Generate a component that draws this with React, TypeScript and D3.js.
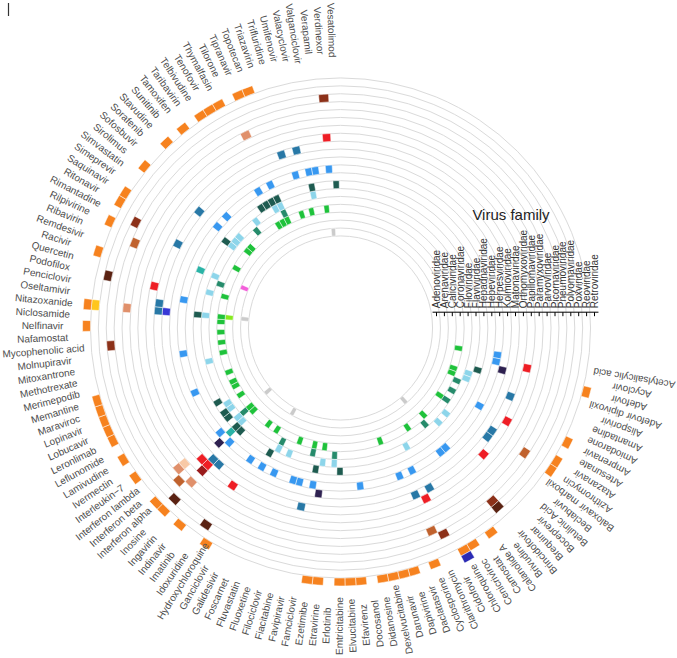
import React from "react";
import * as d3 from "d3";

const drugs = [
  "Acetylsalicylic acid","Acyclovir","Adefovir","Adefovir dipivoxil","Alisporivir","Amantadine","Amiodarone","Amprenavir","Artesunate","Atazanavir",
  "Azithromycin","Baloxavir marboxil","Beclabuvir","Betulinic Acid","Boceprevir","Brequinar","Brincidofovir","Brivudine","Calanolide A","Camostat",
  "Cenicriviroc","Chloroquine","Cidofovir","Clarithromycin","Cyclosporine","Daclatasvir","Dapivirine","Darunavir","Dexelvucitabine","Didanosine",
  "Docosanol","Efavirenz","Elvucitabine","Emtricitabine","Erlotinib","Etravirine","Ezetimibe","Famciclovir","Favipiravir","Fiacitabine",
  "Filociclovir","Fluoxetine","Fluvastatin","Foscarnet","Galidesivir","Ganciclovir","Hydroxychloroquine","Idoxuridine","Imatinib","Indinavir",
  "Ingavirin","Inosine","Interferon alpha","Interferon beta","Interferon lambda","Interleukin−7","Ivermectin","Lamivudine","Leflunomide","Leronlimab",
  "Lobucavir","Lopinavir","Maraviroc","Memantine","Merimepodib","Methotrexate","Mitoxantrone","Molnupiravir","Mycophenolic acid","Nafamostat",
  "Nelfinavir","Niclosamide","Nitazoxanide","Oseltamivir","Penciclovir","Podofilox","Quercetin","Racivir","Remdesivir","Ribavirin",
  "Rilpivirine","Rimantadine","Ritonavir","Saquinavir","Simeprevir","Simvastatin","Sirolimus","Sofosbuvir","Sorafenib","Stavudine",
  "Sunitinib","Tamoxifen","Taribavirin","Telbivudine","Tenofovir","Thymalfasin","Tilorone","Tipranavir","Topotecan","Triazavirin",
  "Trifluridine","Umifenovir","Valacyclovir","Valganciclovir","Verapamil","Verdinexor","Vesatolimod",
];

const families = [
  "Adenoviridae","Arenaviridae","Caliciviridae","Coronaviridae","Filoviridae","Flaviviridae","Hepadnaviridae",
  "Hepeviridae","Herpesviridae","Kolmioviridae","Matonaviridae","Orthomyxoviridae","Papillomaviridae","Paramyxoviridae",
  "Parvoviridae","Picornaviridae","Pneumoviridae","Polyomaviridae","Poxviridae","Reoviridae","Retroviridae",
];
const extraFamilies = ["Togaviridae"];

const familyColors = [
  "#cbcbcb","#f35fda","#86ea1f","#1fc23b","#268b6b","#8dd5ea","#1e5b50",
  "#2ab3a6","#3898f0","#2e2150","#3838d6","#2878a6","#ee1e25","#9a1b1c",
  "#f8c9a6","#e0906b","#c0622e","#8c3119","#5a2212","#ffc61c","#f6821f",
  "#2b2bb4",
];

const adenoviridae = ["Brincidofovir","Ganciclovir","Interferon beta","Nitazoxanide","Verdinexor"];
const arenaviridae = ["Ribavirin"];
const caliciviridae = ["Nitazoxanide"];
const coronaviridae = ["Acetylsalicylic acid","Alisporivir","Amantadine","Azithromycin","Brequinar","Camostat","Daclatasvir","Ezetimibe","Favipiravir","Fluoxetine","Hydroxychloroquine","Imatinib","Interferon alpha","Interferon beta","Ivermectin","Leflunomide","Leronlimab","Lopinavir","Methotrexate","Molnupiravir","Nafamostat","Niclosamide","Nitazoxanide","Quercetin","Ritonavir","Sirolimus","Sofosbuvir","Tenofovir","Thymalfasin","Tilorone","Triazavirin","Umifenovir","Verapamil"];
const filoviridae = ["Amiodarone","Artesunate","Azithromycin","Brincidofovir","Erlotinib","Favipiravir","Galidesivir","Interferon beta","Remdesivir","Sunitinib","Tilorone"];
const flaviviridae = ["Alisporivir","Amantadine","Beclabuvir","Boceprevir","Chloroquine","Erlotinib","Ezetimibe","Fluvastatin","Galidesivir","Interferon alpha","Interferon beta","Interleukin−7","Ivermectin","Merimepodib","Nitazoxanide","Quercetin","Ribavirin","Simvastatin","Sirolimus","Sofosbuvir","Tamoxifen","Thymalfasin","Tilorone","Valacyclovir"];
const hepadnaviridae = ["Adefovir dipivoxil","Emtricitabine","Famciclovir","Ganciclovir","Inosine","Interferon alpha","Interferon lambda","Interleukin−7","Lamivudine","Nitazoxanide","Simvastatin","Telbivudine","Tenofovir","Thymalfasin","Tilorone","Valacyclovir","Vesatolimod"];
const hepeviridae = ["Interferon alpha","Ribavirin"];
const herpesviridae = ["Acetylsalicylic acid","Acyclovir","Artesunate","Brincidofovir","Brivudine","Cidofovir","Cyclosporine","Docosanol","Famciclovir","Fiacitabine","Filociclovir","Foscarnet","Ganciclovir","Idoxuridine","Inosine","Interferon beta","Lobucavir","Mitoxantrone","Penciclovir","Sirolimus","Sorafenib","Tenofovir","Tilorone","Trifluridine","Valacyclovir","Valganciclovir","Verdinexor"];
const kolmioviridae = ["Adefovir","Ezetimibe","Interferon alpha"];
const matonaviridae = ["Nitazoxanide"];
const orthomyxoviridae = ["Amantadine","Azithromycin","Baloxavir marboxil","Chloroquine","Clarithromycin","Favipiravir","Ingavirin","Inosine","Nitazoxanide","Oseltamivir","Rimantadine","Sirolimus","Triazavirin","Umifenovir"];
const papillomaviridae = ["Acyclovir","Artesunate","Betulinic Acid","Cidofovir","Idoxuridine","Inosine","Interferon alpha","Podofilox","Verdinexor"];
const paramyxoviridae = ["Inosine"];
const parvoviridae = ["Interferon beta"];
const picornaviridae = ["Inosine","Interferon beta","Nitazoxanide","Tilorone"];
const pneumoviridae = ["Azithromycin","Clarithromycin","Interferon alpha","Ribavirin"];
const polyomaviridae = ["Brincidofovir","Cidofovir","Mycophenolic acid","Rimantadine","Verdinexor"];
const poxviridae = ["Brincidofovir","Idoxuridine","Inosine","Podofilox"];
const reoviridae = ["Nitazoxanide"];
const retroviridae = ["Adefovir","Amprenavir","Atazanavir","Azithromycin","Calanolide A","Cenicriviroc","Chloroquine","Cyclosporine","Dapivirine","Darunavir","Dexelvucitabine","Didanosine","Efavirenz","Elvucitabine","Emtricitabine","Etravirine","Ezetimibe","Hydroxychloroquine","Indinavir","Inosine","Interferon alpha","Interleukin−7","Lamivudine","Leronlimab","Lobucavir","Lopinavir","Maraviroc","Memantine","Nelfinavir","Nitazoxanide","Racivir","Rilpivirine","Ritonavir","Saquinavir","Sirolimus","Stavudine","Tamoxifen","Telbivudine","Tenofovir","Thymalfasin","Tipranavir","Topotecan"];
const togaviridae = ["Chloroquine"];

const familyDrugs = [
  adenoviridae, arenaviridae, caliciviridae, coronaviridae, filoviridae, flaviviridae, hepadnaviridae,
  hepeviridae, herpesviridae, kolmioviridae, matonaviridae, orthomyxoviridae, papillomaviridae, paramyxoviridae,
  parvoviridae, picornaviridae, pneumoviridae, polyomaviridae, poxviridae, reoviridae, retroviridae, togaviridae,
];

const FONT = "'Liberation Sans', Arial, Helvetica, sans-serif";

export default function App() {
  const W = 677, H = 658;
  const cx = 340.5, cy = 328;
  const r0 = 92.05, band = 7.9;
  const deg = Math.PI / 180;
  const allFamilies = [...families, ...extraFamilies];

  const x = d3.scaleBand<string>().domain(drugs).range([98.5 * deg, 359.5 * deg]);
  const y = d3.scaleBand<string>().domain(allFamilies).range([r0, r0 + band * allFamilies.length]);
  const color = d3.scaleOrdinal<string, string>().domain(allFamilies).range(familyColors);

  const cells = familyDrugs.flatMap((list, i) =>
    list.map((drug) => ({ drug, family: allFamilies[i] }))
  );

  const arc = d3
    .arc<{ drug: string; family: string }>()
    .innerRadius((d) => y(d.family) as number)
    .outerRadius((d) => (y(d.family) as number) + y.bandwidth())
    .startAngle((d) => x(d.drug) as number)
    .endAngle((d) => (x(d.drug) as number) + x.bandwidth());

  const labelR = 298;
  const axisY = cy - 2 * band;
  const axisEnd = r0 + band * families.length;

  return (
    <svg
      width={W}
      height={H}
      style={{ position: "absolute", left: 0, top: 0, display: "block", background: "#fff" }}
      fontFamily={FONT}
    >
      <line x1={8.5} x2={8.5} y1={3} y2={16} stroke="#333" strokeWidth={1.2} />
      <g transform={`translate(${cx},${cy})`}>
        {families.map((f) => (
          <circle key={f} r={y(f) as number} fill="none" stroke="#dadada" strokeWidth={1} />
        ))}
        {cells.map((c, i) => (
          <path key={i} d={arc(c) as string} fill={color(c.family)} stroke="#fff" strokeWidth={0.5} />
        ))}
        {drugs.map((d) => {
          const a = ((x(d) as number) + x.bandwidth() / 2) / deg;
          return (
            <text
              key={d}
              transform={`rotate(${a - 90}) translate(${labelR},0) rotate(180)`}
              textAnchor="middle"
              dy="0.35em"
              fontSize={10}
              fill="#4d4d4d"
            >
              {d}
            </text>
          );
        })}
        <g transform={`translate(0,${axisY - cy})`}>
          <path d={`M${r0},0H${axisEnd}`} stroke="#000" strokeWidth={1} fill="none" />
          {families.map((f) => {
            const p = (y(f) as number) + y.bandwidth() / 2;
            return (
              <g key={f} transform={`translate(${p},0)`}>
                <line y1={0} y2={4} stroke="#000" strokeWidth={1} />
                <text
                  transform="translate(0,-4) rotate(-90)"
                  textAnchor="start"
                  dy="0.35em"
                  fontSize={10}
                  fill="#333"
                >
                  {f}
                </text>
              </g>
            );
          })}
        </g>
      </g>
      <text x={511} y={220} textAnchor="middle" fontSize={15} fill="#222">
        Virus family
      </text>
    </svg>
  );
}
